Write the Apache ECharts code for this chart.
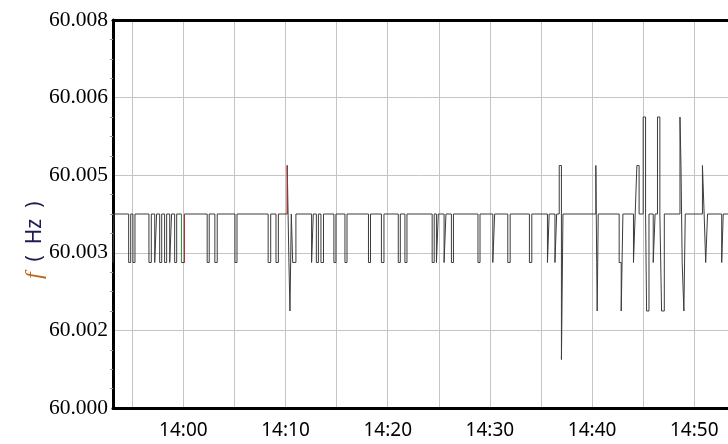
<!DOCTYPE html>
<html>
<head>
<meta charset="utf-8">
<script src="https://cdn.jsdelivr.net/npm/echarts@6/dist/echarts.min.js"></script>
<style>html,body{margin:0;padding:0;background:#fff;}#c{width:728px;height:444px;}</style>
</head>
<body>
<div id="c"></div>
<script>
// step points: the frequency takes the value at that time and holds it until the next time
const times = [
  '13:53:07','13:53:13','13:54:39','13:54:51','13:55:04','13:55:16','13:56:38','13:56:52',
  '13:57:12','13:57:23','13:57:41','13:57:53','13:58:10','13:58:22','13:58:40','13:58:51',
  '13:59:09','13:59:21','13:59:49','14:00:06','14:02:20','14:02:32','14:03:05','14:03:19',
  '14:05:03','14:05:15','14:08:18','14:08:33','14:09:04','14:09:18','14:10:10','14:10:20',
  '14:10:26','14:10:34','14:10:42','14:11:01','14:12:33','14:12:43','14:13:01','14:13:13',
  '14:13:28','14:13:43','14:14:44','14:14:56','14:15:49','14:16:01','14:18:07','14:18:19',
  '14:19:23','14:19:38','14:21:02','14:21:14','14:21:41','14:21:53','14:24:21','14:24:33',
  '14:24:46','14:24:57','14:25:31','14:25:42','14:26:14','14:26:26','14:28:50','14:29:02',
  '14:30:17','14:30:28','14:31:45','14:31:59','14:33:52','14:34:06','14:35:38','14:35:48',
  '14:36:22','14:36:32','14:36:47','14:37:00','14:37:09','14:40:22','14:40:27','14:40:30',
  '14:40:36','14:42:39','14:42:51','14:43:01','14:44:03','14:44:13','14:44:23','14:44:36',
  '14:45:00','14:45:14','14:45:20','14:45:34','14:45:59','14:46:10','14:46:24','14:46:38',
  '14:46:48','14:47:04','14:48:36','14:48:42','14:48:49','14:48:59','14:49:07','14:50:48',
  '14:50:58','14:51:07','14:51:18','14:52:41','14:52:50','14:53:18'
];
const values = [
  60.003,60.004,60.003,60.004,60.003,60.004,60.003,60.004,
  60.003,60.004,60.003,60.004,60.003,60.004,60.003,60.004,
  60.003,60.004,60.003,60.004,60.003,60.004,60.003,60.004,
  60.003,60.004,60.003,60.004,60.003,60.004,60.005,60.003,
  60.002,60.004,60.003,60.004,60.003,60.004,60.003,60.004,
  60.003,60.004,60.003,60.004,60.003,60.004,60.003,60.004,
  60.003,60.004,60.003,60.004,60.003,60.004,60.003,60.004,
  60.003,60.004,60.003,60.004,60.003,60.004,60.003,60.004,
  60.003,60.004,60.003,60.004,60.003,60.004,60.003,60.004,
  60.003,60.004,60.005,60.001,60.004,60.005,60.003,60.002,
  60.004,60.003,60.002,60.004,60.003,60.004,60.005,60.004,
  60.006,60.004,60.002,60.004,60.003,60.004,60.006,60.004,
  60.002,60.004,60.006,60.005,60.003,60.002,60.004,60.005,
  60.004,60.003,60.004,60.003,60.004,60.004
];
// coloured edges
const markTimes = ['13:59:49','14:00:06','14:10:10'];
const markFrom  = [60.004, 60.003, 60.004];
const markTo    = [60.003, 60.004, 60.005];
const markColors = ['#3a9a3a','#b03030','#b03030'];

const yTickLabels = ['60.000','60.002','60.003','60.005','60.006','60.008'];
const xTickLabels = ['14:00','14:10','14:20','14:30','14:40','14:50'];

const DAY = '2020-01-01 ';
const ts = s => new Date((DAY + s).replace(' ', 'T')).getTime();
const xMin = ts('13:53:07'), xMax = ts('14:53:18');

const mainData = times.map((t, i) => [ts(t), values[i]]);
const markSeries = markTimes.map((t, i) => ({
  type: 'line', xAxisIndex: 0, yAxisIndex: 0, silent: true, symbol: 'none', z: 5,
  lineStyle: { color: markColors[i], width: 1 },
  data: [[ts(t), markFrom[i]], [ts(t), markTo[i]]]
}));

const chart = echarts.init(document.getElementById('c'));
chart.setOption({
  animation: false,
  backgroundColor: '#fff',
  grid: { left: 113, right: 0, top: 20, bottom: 36 },
  xAxis: [{
    type: 'time', min: xMin, max: xMax,
    minInterval: 600000, maxInterval: 600000,
    axisLine: { lineStyle: { color: '#000', width: 3 } },
    axisTick: { show: false },
    splitLine: { show: true, lineStyle: { color: '#c4c4c4', width: 1 } },
    axisLabel: {
      showMinLabel: false, showMaxLabel: false,
      margin: 13, color: '#000', fontSize: 19, fontFamily: 'Noto Sans',
      formatter: v => {
        const d = new Date(v);
        const s = String(d.getHours()).padStart(2,'0') + ':' + String(d.getMinutes()).padStart(2,'0');
        return xTickLabels.includes(s) ? s : '';
      }
    }
  }, {
    type: 'time', position: 'top', min: xMin, max: xMax,
    axisLine: { show: true, lineStyle: { color: '#000', width: 3 } },
    axisTick: { show: false }, axisLabel: { show: false }, splitLine: { show: false }
  }],
  yAxis: {
    type: 'value', min: 60.000, max: 60.008, interval: 0.0016,
    axisLine: { show: true, lineStyle: { color: '#000', width: 3 } },
    axisTick: { show: false },
    minorTick: { show: true, splitNumber: 4, length: 3, lineStyle: { color: '#999' } },
    splitLine: { show: true, lineStyle: { color: '#c4c4c4', width: 1 } },
    axisLabel: {
      margin: 5, color: '#000', fontSize: 21.5, fontFamily: 'Liberation Serif',
      formatter: (v) => {
        const idx = Math.round((v - 60) / 0.0016);
        return yTickLabels[idx] !== undefined ? yTickLabels[idx] : '';
      }
    }
  },
  graphic: [{
    type: 'text', x: 35, y: 279, rotation: Math.PI / 2,
    style: {
      text: '{f|f}{h|  (  Hz  )}',
      align: 'left', verticalAlign: 'middle',
      rich: {
        f: { fontFamily: 'Liberation Serif', fontStyle: 'italic', fontSize: 24, fill: '#c0661a' },
        h: { fontFamily: 'Noto Sans', fontSize: 21, fill: '#1c1c50' }
      }
    }
  }],
  series: [{
    type: 'line', step: 'end', symbol: 'none', silent: true,
    lineStyle: { color: '#3c3c3c', width: 1 },
    data: mainData
  }].concat(markSeries)
});
</script>
</body>
</html>
